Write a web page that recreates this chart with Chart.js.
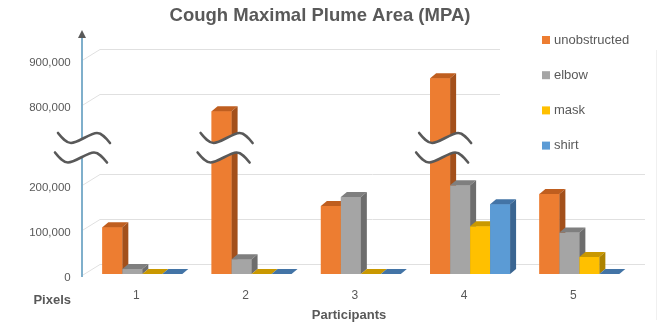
<!DOCTYPE html>
<html><head><meta charset="utf-8">
<script src="https://cdn.jsdelivr.net/npm/chart.js@4.4.1/dist/chart.umd.min.js"></script>
<style>html,body{margin:0;padding:0;background:#fff}#wrap{width:669px;height:334px;position:relative}</style>
</head><body><div id="wrap"><canvas id="c" width="669" height="334"></canvas></div>
<script>
// ---- data ----
const categories = ['1', '2', '3', '4', '5'];
const seriesNames = ['unobstructed', 'elbow', 'mask', 'shirt'];
const unobstructed = [104000, 784000, 151000, 857000, 178000];
const elbow = [11000, 33000, 171000, 197000, 92000];
const mask = [0, 0, 0, 106000, 38000];
const shirt = [0, 0, 0, 155000, 0];
const tickValues = [0, 100000, 200000, 800000, 900000];
const chartTitle = 'Cough Maximal Plume Area (MPA)';
const xTitle = 'Participants';
const yTitle = 'Pixels';

// ---- broken axis: values above the cut are shifted down ----
const breakLow = 200000, breakHigh = 800000, breakSpan = 177778, breakCut = 500000;
const shift = (breakHigh - breakLow) - breakSpan;
const tf = v => (v > breakCut ? v - shift : v);

// ---- styles ----
const frontColors = ['#ED7D31', '#A5A5A5', '#FFC000', '#5B9BD5'];
const topColors = ['#BF5E1F', '#7F7F7F', '#C99800', '#4374A6'];
const sideColors = ['#A3501B', '#6D6D6D', '#AD8300', '#3A6591'];
const TXT = '#595959';
const DX = 6, DY = 5;

const seriesData = [unobstructed, elbow, mask, shirt];

function wavePath(ctx, x0, c, reverse) {
  const pts = [[0, -5], [4, 0], [8, 5], [13, 5], [20, 5], [32, -5], [39, -5], [44, -5], [48, 0], [52, 5]];
  const p = pts.map(([a, b]) => [x0 + a, c + b]);
  if (!reverse) {
    ctx.moveTo(p[0][0], p[0][1]);
    for (let k = 1; k < p.length; k += 3) ctx.bezierCurveTo(p[k][0], p[k][1], p[k+1][0], p[k+1][1], p[k+2][0], p[k+2][1]);
  } else {
    const q = p.slice().reverse();
    ctx.lineTo(q[0][0], q[0][1]);
    for (let k = 1; k < q.length; k += 3) ctx.bezierCurveTo(q[k][0], q[k][1], q[k+1][0], q[k+1][1], q[k+2][0], q[k+2][1]);
  }
}

const decor = {
  id: 'decor',
  beforeDatasetsDraw(chart) {
    const ctx = chart.ctx, ys = chart.scales.y;
    ctx.save();
    ctx.strokeStyle = '#f0f0f0'; ctx.lineWidth = 1;
    ctx.beginPath(); ctx.moveTo(656.5, 50); ctx.lineTo(656.5, 320); ctx.stroke();
    ctx.strokeStyle = '#e0e0e0'; ctx.lineWidth = 1;
    tickValues.forEach(v => {
      const yb = ys.getPixelForValue(tf(v));
      const xEnd = v > breakCut ? 500 : 645;
      ctx.beginPath();
      ctx.moveTo(83, yb + 1);
      ctx.lineTo(100, yb - 9.5);
      ctx.lineTo(xEnd, yb - 9.5);
      ctx.stroke();
    });
    ctx.restore();
  },
  afterDatasetsDraw(chart) {
    const ctx = chart.ctx, ys = chart.scales.y;
    const metas = chart.data.datasets.map((d, i) => chart.getDatasetMeta(i));
    ctx.save();
    for (let j = 0; j < categories.length; j++) {
      for (let i = 0; i < metas.length; i++) {
        const el = metas[i].data[j];
        const { x, y, base, width } = el.getProps(['x', 'y', 'base', 'width'], true);
        const l = x - width / 2, r = x + width / 2;
        ctx.fillStyle = frontColors[i];
        ctx.fillRect(l, y, width, base - y);
        ctx.fillStyle = topColors[i];
        ctx.beginPath(); ctx.moveTo(l, y); ctx.lineTo(l + DX, y - DY); ctx.lineTo(r + DX, y - DY); ctx.lineTo(r, y); ctx.closePath(); ctx.fill();
        if (base - y > 0.5) {
          ctx.fillStyle = sideColors[i];
          ctx.beginPath(); ctx.moveTo(r, y); ctx.lineTo(r + DX, y - DY); ctx.lineTo(r + DX, base - DY); ctx.lineTo(r, base); ctx.closePath(); ctx.fill();
        }
      }
    }
    const y0 = ys.getPixelForValue(0);
    ctx.strokeStyle = '#7FAFCB'; ctx.lineWidth = 2;
    ctx.beginPath(); ctx.moveTo(82, 36); ctx.lineTo(82, y0 + 3); ctx.stroke();
    ctx.fillStyle = TXT;
    ctx.beginPath(); ctx.moveTo(82, 30); ctx.lineTo(86, 38); ctx.lineTo(78, 38); ctx.closePath(); ctx.fill();

    const yMid = ys.getPixelForValue((tf(breakLow) + tf(breakHigh)) / 2);
    const cU = yMid - 6, cL = yMid + 13.5;
    const centers = [84];
    for (let j = 0; j < categories.length; j++) {
      for (let i = 0; i < metas.length; i++) {
        if (seriesData[i][j] > breakCut) centers.push(metas[i].data[j].x + 5);
      }
    }
    centers.forEach(cx => {
      const x0 = cx - 26;
      ctx.fillStyle = '#ffffff';
      ctx.beginPath();
      wavePath(ctx, x0, cU, false);
      wavePath(ctx, x0 - 3, cL, true);
      ctx.closePath(); ctx.fill();
      ctx.strokeStyle = TXT; ctx.lineWidth = 2.6; ctx.lineCap = 'round';
      ctx.beginPath(); wavePath(ctx, x0, cU, false); ctx.stroke();
      ctx.beginPath(); wavePath(ctx, x0 - 3, cL, false); ctx.stroke();
    });

    ctx.fillStyle = TXT;
    ctx.textBaseline = 'middle';
    ctx.textAlign = 'center';
    ctx.font = 'bold 18.5px "Liberation Sans", Arial, sans-serif';
    ctx.fillText(chartTitle, 320, 16);
    ctx.font = 'bold 13px "Liberation Sans", Arial, sans-serif';
    ctx.fillText(xTitle, 349, 315);
    ctx.textAlign = 'right';
    ctx.fillText(yTitle, 71, 300);

    ctx.textAlign = 'left';
    ctx.font = '13px "Liberation Sans", Arial, sans-serif';
    chart.data.datasets.forEach((d, i) => {
      const yy = 40 + i * 35.2;
      ctx.fillStyle = frontColors[i];
      ctx.fillRect(542, yy - 4, 8, 8);
      ctx.fillStyle = TXT;
      ctx.fillText(d.label, 554, yy);
    });
    ctx.restore();
  }
};

new Chart(document.getElementById('c'), {
  type: 'bar',
  data: {
    labels: categories,
    datasets: seriesNames.map((name, i) => ({
      label: name,
      data: seriesData[i].map(tf),
      backgroundColor: frontColors[i],
      borderWidth: 0,
      categoryPercentage: 0.7317,
      barPercentage: 1.0
    }))
  },
  options: {
    responsive: false,
    animation: false,
    devicePixelRatio: 1,
    layout: { padding: { top: 40, right: 35, left: 0, bottom: 0 } },
    plugins: { legend: { display: false }, tooltip: { enabled: false }, title: { display: false } },
    scales: {
      x: {
        grid: { display: false, drawTicks: false },
        border: { display: false },
        ticks: { color: TXT, font: { family: '"Liberation Sans", Arial, sans-serif', size: 12 }, padding: 14, labelOffset: -6 },
        afterFit: s => { s.height = 60; }
      },
      y: {
        min: 0,
        max: 520000,
        grid: { display: false, drawTicks: false },
        border: { display: false },
        afterBuildTicks: s => { s.ticks = tickValues.map(v => ({ value: tf(v) })); },
        ticks: {
          color: TXT,
          font: { family: '"Liberation Sans", Arial, sans-serif', size: 11.5 },
          padding: 17,
          labelOffset: 3.5,
          callback: (val, idx) => tickValues[idx].toLocaleString('en-US')
        },
        afterFit: s => { s.width = 87.7; }
      }
    }
  },
  plugins: [decor]
});
</script>
</body></html>
